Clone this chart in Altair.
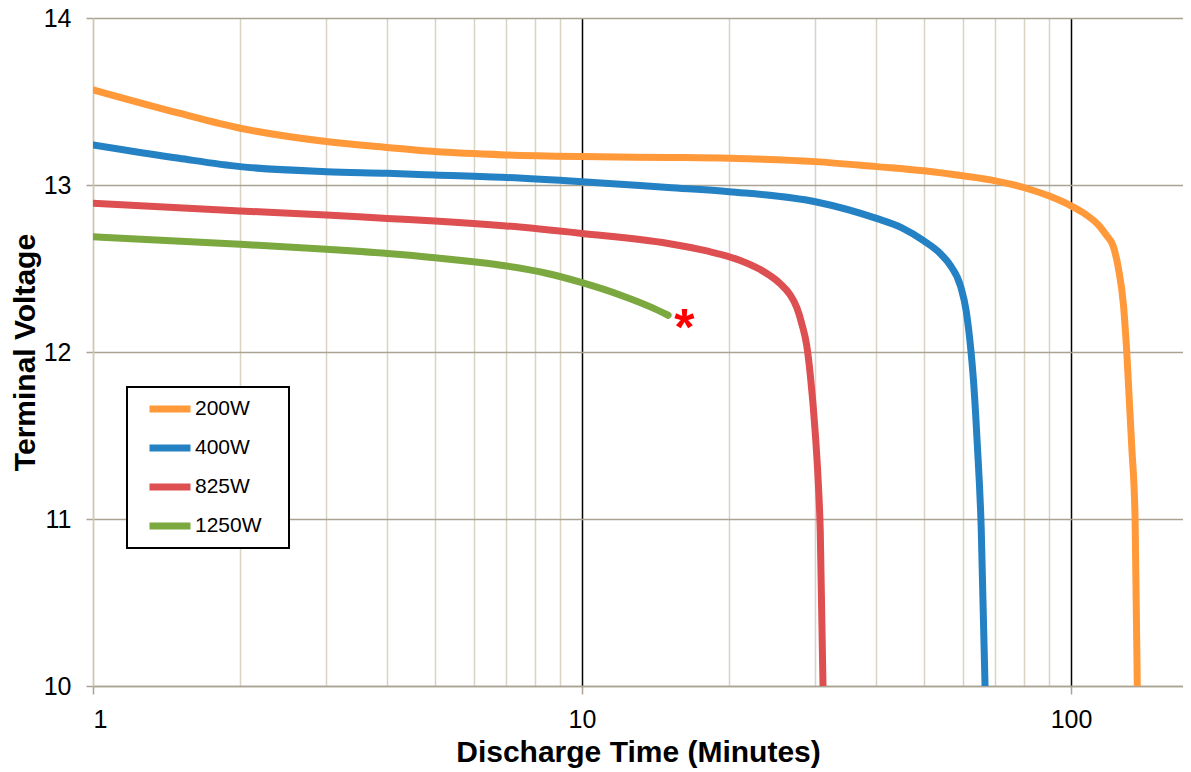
import altair as alt
import pandas as pd

series_names = ["200W", "400W", "825W", "1250W"]
series_colors = ["#FF993A", "#2481C4", "#DD4F50", "#7BA83F"]

t_200 = [1, 1.5, 2, 3, 4, 5, 7, 10, 15, 20, 30, 40, 50, 60, 70, 80, 90, 100,
         107, 114.6, 118, 121.9, 125.0, 128, 130.0, 133.1, 135.2, 136.6]
v_200 = [13.57, 13.43, 13.34, 13.26, 13.225, 13.20, 13.18, 13.17, 13.165, 13.16,
         13.14, 13.11, 13.085, 13.055, 13.025, 12.985, 12.935, 12.875,
         12.825, 12.75, 12.70, 12.635, 12.50, 12.28, 12.00, 11.43, 11.00, 10.0]

t_400 = [1, 1.5, 2, 3, 4, 5, 7, 10, 15, 20, 30, 40, 45, 50, 54, 56.6, 59.5,
         61, 62.1, 63.2, 64.3, 65.5, 66.7]
v_400 = [13.24, 13.16, 13.11, 13.08, 13.07, 13.06, 13.045, 13.02, 12.985, 12.96,
         12.90, 12.80, 12.745, 12.665, 12.59, 12.52, 12.39,
         12.25, 12.07, 11.82, 11.45, 10.95, 10.0]

t_825 = [1, 2, 3, 4, 5, 7, 10, 15, 18, 21, 23.1, 25.4, 26.6, 27.5, 28.2, 28.8,
         29.3, 29.96, 30.4, 30.7, 31.1]
v_825 = [12.89, 12.845, 12.82, 12.80, 12.785, 12.755, 12.71, 12.65, 12.605, 12.55,
         12.495, 12.41, 12.345, 12.265, 12.16, 12.04, 11.86, 11.53, 11.23, 10.93, 10.0]

t_1250 = [1, 2, 3, 4, 5, 6, 7, 8.5, 10, 12, 13.8, 15]
v_1250 = [12.69, 12.645, 12.615, 12.59, 12.565, 12.54, 12.515, 12.47, 12.415,
          12.34, 12.27, 12.22]

marker_t = [16.2]
marker_v = [12.19]
marker_text = ["*"]

x_tick_values = [1, 2, 3, 4, 5, 6, 7, 8, 9, 10, 20, 30, 40, 50, 60, 70, 80, 90, 100]
y_tick_values = [10, 11, 12, 13, 14]

rows = []
for name, ts, vs in zip(series_names, [t_200, t_400, t_825, t_1250],
                        [v_200, v_400, v_825, v_1250]):
    for i, (t, v) in enumerate(zip(ts, vs)):
        rows.append({"series": name, "t": t, "v": v, "order": i})
df = pd.DataFrame(rows)
marker_df = pd.DataFrame({"t": marker_t, "v": marker_v, "label": marker_text})

FONT = "Liberation Sans"
major_test = "datum.value == 1 || datum.value == 10 || datum.value == 100"

x_scale = alt.Scale(type="log", domain=[1, 169.4], nice=False)
y_scale = alt.Scale(domain=[10, 14], nice=False)

x_axis = alt.Axis(
    values=x_tick_values,
    title="Discharge Time (Minutes)",
    labelExpr=f"({major_test}) ? format(datum.value, 'd') : ''",
    labelOverlap=False,
    labelFont=FONT, labelFontSize=25, labelColor="#000000",
    labelBaseline="alphabetic", labelPadding=33,
    tickSize=8, tickColor="#aaa392", tickWidth=1.5,
    tickOpacity={"condition": {"test": major_test, "value": 1}, "value": 0},
    grid=True,
    gridColor={"condition": {"test": "datum.value == 10 || datum.value == 100",
                             "value": "#000000"}, "value": "#d9d3c4"},
    gridWidth=1.5,
    domainColor="#aaa392", domainWidth=1.5,
    titleFont=FONT, titleFontSize=30, titleFontWeight="bold", titleColor="#000000",
    titleX=545, titleY=75, titleBaseline="alphabetic", titleAlign="center",
)

y_axis = alt.Axis(
    values=y_tick_values,
    title="Terminal Voltage",
    format="d",
    labelFont=FONT, labelFontSize=25, labelColor="#000000", labelPadding=15,
    tickSize=7, tickColor="#aaa392", tickWidth=1.5,
    grid=True, gridColor="#aaa392", gridWidth=1.5,
    domainColor="#cfc8b8", domainWidth=1.5,
    titleFont=FONT, titleFontSize=30, titleFontWeight="bold", titleColor="#000000",
    titleX=-59, titleY=334, titleBaseline="alphabetic", titleAlign="center",
    titleAngle=270,
)

legend = alt.Legend(
    orient="none", legendX=34, legendY=369, title=None,
    symbolType="stroke", symbolSize=1681, symbolStrokeWidth=7, symbolOffset=7,
    clipHeight=20, rowPadding=18, padding=12, labelOffset=1,
    labelFont=FONT, labelFontSize=21, labelColor="#000000",
    labelExpr="datum.label + '\u2800'",
    strokeColor="#000000", fillColor="#ffffff",
)

lines = alt.Chart(df).mark_line(
    strokeWidth=7, interpolate="monotone", strokeCap="round", clip=True
).encode(
    x=alt.X("t:Q", scale=x_scale, axis=x_axis),
    y=alt.Y("v:Q", scale=y_scale, axis=y_axis),
    color=alt.Color("series:N",
                    scale=alt.Scale(domain=series_names, range=series_colors),
                    legend=legend),
    order="order:Q",
)

marker = alt.Chart(marker_df).mark_text(
    color="#FF0000", fontSize=52, fontWeight="bold", font=FONT,
    baseline="alphabetic", dy=25, align="center"
).encode(
    x=alt.X("t:Q", scale=x_scale),
    y=alt.Y("v:Q", scale=y_scale),
    text="label:N",
)

chart = alt.layer(lines, marker).properties(
    width=1090, height=668,
    padding={"left": 85, "top": 10, "right": 0, "bottom": 84},
    autosize=alt.AutoSizeParams(type="none"),
).configure_view(strokeWidth=0).configure_legend(strokeWidth=2)

chart.save("out.html", embed_options={"renderer": "svg", "actions": False})
